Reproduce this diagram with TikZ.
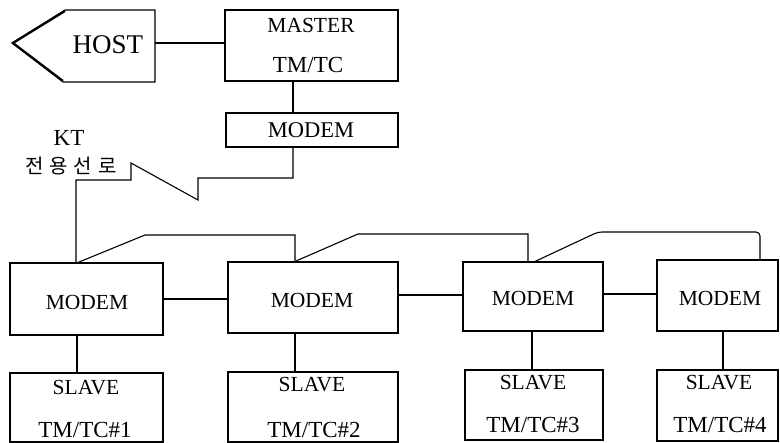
\documentclass[tikz,border=0pt]{standalone}
\usepackage{fontspec}
\setmainfont{Liberation Serif}
\newfontfamily\krfont{Noto Sans CJK KR}
\begin{document}
\begin{tikzpicture}[x=1pt,y=-1pt,line width=1.1pt,
  box/.style={draw,rectangle,inner sep=0pt},
  lbl/.style={inner sep=0pt,font=\fontsize{21.5}{24}\selectfont},
  tlbl/.style={inner sep=0pt,font=\fontsize{23}{25}\selectfont},
  link/.style={line width=1.1pt}]
\useasboundingbox (0,0) rectangle (780,443);
% boxes
\node[box,minimum width=173pt,minimum height=71pt] (master) at (311.5,45.5) {};
\node[box,minimum width=172pt,minimum height=34pt] (mmodem) at (312,130) {};
\node[box,minimum width=153pt,minimum height=72pt] (m1) at (86.5,299) {};
\node[box,minimum width=170pt,minimum height=71pt] (m2) at (313,297.5) {};
\node[box,minimum width=140pt,minimum height=69pt] (m3) at (533,296.5) {};
\node[box,minimum width=121pt,minimum height=71pt] (m4) at (717.5,295.5) {};
\node[box,minimum width=153pt,minimum height=69pt] (s1) at (86.5,407.5) {};
\node[box,minimum width=170pt,minimum height=70pt] (s2) at (313,407) {};
\node[box,minimum width=138pt,minimum height=70pt] (s3) at (534,405) {};
\node[box,minimum width=121pt,minimum height=71pt] (s4) at (717.5,405.5) {};
% host shape
\draw (155,10) -- (65,10) -- (12,43) -- (63,82) -- (155,82) -- cycle;
\draw[line width=2.2pt] (65,11) -- (13,43) -- (63,81);
% texts
\node[inner sep=0pt,font=\fontsize{27}{29}\selectfont] (host) at (108,45) {HOST};
\node[lbl] (tmaster) at (311,25) {MASTER};
\node[tlbl] (tmtc) at (308,65) {TM/TC};
\node[lbl,font=\fontsize{22.5}{25}\selectfont] (tmm) at (311,130) {MODEM};
\node[lbl,font=\fontsize{23}{25}\selectfont] (tkt) at (69,138) {KT};
\node[inner sep=0pt,font=\krfont\fontsize{20}{22}\selectfont] (tkr) at (71,166) {전\hspace{6pt}용\hspace{6pt}선\hspace{6pt}로};
\node[lbl] (tm1) at (87,302) {MODEM};
\node[lbl] (tm2) at (312,300) {MODEM};
\node[lbl] (tm3) at (533,298) {MODEM};
\node[lbl] (tm4) at (720,298) {MODEM};
\node[lbl] (ts1) at (86,388) {SLAVE};
\node[tlbl] (tt1) at (85,430) {TM/TC\#1};
\node[lbl] (ts2) at (312,385) {SLAVE};
\node[tlbl] (tt2) at (314,430) {TM/TC\#2};
\node[lbl] (ts3) at (533,383) {SLAVE};
\node[tlbl] (tt3) at (533,425) {TM/TC\#3};
\node[lbl] (ts4) at (719,383) {SLAVE};
\node[tlbl] (tt4) at (720,425) {TM/TC\#4};
% connectors
\coordinate (hostr) at (155,43);
\draw[link] (hostr) -- (hostr -| master.west);
\draw[link] (293,0 |- master.south) -- (293,0 |- mmodem.north);
\draw[link] (293,0 |- mmodem.south) |- (198,178) -- (198,200) -- (131,163) -- (131,180) -| (76,0 |- m1.north);
\draw[link] (78,0 |- m1.north) -- (145,235) -| (295,0 |- m2.north);
\draw[link] (295,0 |- m2.north) -- (358,234) -| (528,0 |- m3.north);
\draw[link,rounded corners=4pt] (535,0 |- m3.north) -- (598,232) -| (760,0 |- m4.north);
\draw[link] (m1.east) -- (m1.east -| m2.west);
\draw[link] (m2.east |- 0,295) -- (m3.west |- 0,295);
\draw[link] (m3.east |- 0,294) -- (m4.west |- 0,294);
\draw[link] (77,0 |- m1.south) -- (77,0 |- s1.north);
\draw[link] (295,0 |- m2.south) -- (295,0 |- s2.north);
\draw[link] (532,0 |- m3.south) -- (532,0 |- s3.north);
\draw[link] (723,0 |- m4.south) -- (723,0 |- s4.north);
\end{tikzpicture}
\end{document}
